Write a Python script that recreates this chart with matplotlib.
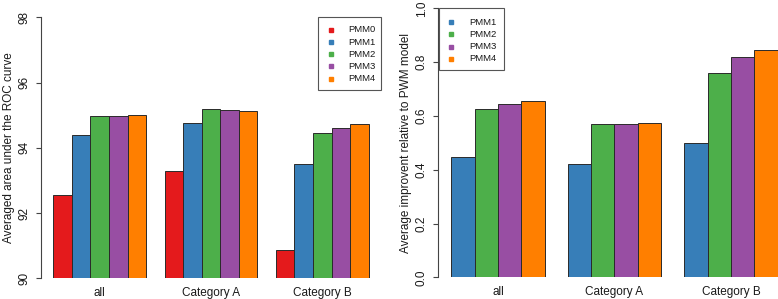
import matplotlib
matplotlib.use("Agg")
import matplotlib.pyplot as plt
from matplotlib.patches import Rectangle
import numpy as np

plt.rcParams['font.family'] = ['Liberation Sans', 'DejaVu Sans']

categories = ["all", "Category A", "Category B"]

left_series = ["PMM0", "PMM1", "PMM2", "PMM3", "PMM4"]
left_values = {
    "PMM0": [92.56, 93.29, 90.88],
    "PMM1": [94.39, 94.76, 93.51],
    "PMM2": [94.96, 95.19, 94.44],
    "PMM3": [94.99, 95.17, 94.62],
    "PMM4": [95.01, 95.12, 94.73],
}
left_yticks = [90, 92, 94, 96, 98]

right_series = ["PMM1", "PMM2", "PMM3", "PMM4"]
right_values = {
    "PMM1": [0.449, 0.423, 0.500],
    "PMM2": [0.625, 0.570, 0.759],
    "PMM3": [0.646, 0.570, 0.818],
    "PMM4": [0.656, 0.575, 0.844],
}
right_yticks = [0.0, 0.2, 0.4, 0.6, 0.8, 1.0]

colors = {"PMM0": "#E41A1C", "PMM1": "#377EB8", "PMM2": "#4DAF4A",
          "PMM3": "#984EA3", "PMM4": "#FF7F00"}

W, H = 778, 299
fig = plt.figure(figsize=(W / 100, H / 100), dpi=100)
TXT = "#1a1a1a"


def fx(x):
    return x / W


def fy(y):
    return 1 - y / H


def make_axes(l, r, t, b):
    return fig.add_axes([fx(l), fy(b), (r - l) / W, (b - t) / H])


def barpanel(ax, series, values, ylim, yticks, ylabel, fmt):
    n = len(series)
    ng = len(categories)
    centers = []
    for g in range(ng):
        start = 1 + g * (n + 1)
        for i, s in enumerate(series):
            x0 = start + i
            ax.bar(x0 + 0.5, values[s][g] - ylim[0], width=1.0, bottom=ylim[0],
                   color=colors[s], edgecolor="#2a2a2a", linewidth=0.7)
        centers.append(start + n / 2)
    total = ng * (n + 1)
    ext = 0.04 * (total - 1)
    ax.set_xlim(1 - ext, total + ext)
    ax.set_ylim(*ylim)
    for sp in ["top", "right", "bottom"]:
        ax.spines[sp].set_visible(False)
    ax.spines["left"].set_color("#444444")
    ax.spines["left"].set_linewidth(0.8)
    ax.set_yticks(yticks)
    ax.set_yticklabels([fmt(v) for v in yticks], rotation=90, va="center",
                       fontsize=8.5, color=TXT)
    ax.tick_params(axis="y", length=3.4, width=0.8, color="#444444", pad=4.3)
    ax.set_xticks(centers)
    ax.set_xticklabels(categories, fontsize=8.5, color=TXT)
    ax.tick_params(axis="x", length=0, pad=6.5)
    ax.set_ylabel(ylabel, fontsize=8.5, color=TXT, labelpad=2.5)


def legend(series, box, mx, tx, rows):
    l, t, r, b = box
    fig.patches.append(Rectangle((fx(l), fy(b)), (r - l) / W, (b - t) / H,
                                 transform=fig.transFigure, facecolor="white",
                                 edgecolor="#555555", linewidth=0.8, zorder=5))
    for s, y in zip(series, rows):
        fig.lines.append(plt.Line2D([fx(mx)], [fy(y)], marker="s", markersize=3.2,
                                    color=colors[s], linestyle="none",
                                    transform=fig.transFigure, zorder=6))
        fig.text(fx(tx), fy(y), s, fontsize=6.8, color=TXT, va="center", ha="left", zorder=6)


ax1 = make_axes(40.7, 381.3, 17.3, 278.3)
barpanel(ax1, left_series, left_values, (90, 98), left_yticks,
         "Averaged area under the ROC curve", lambda v: f"{v:d}")
legend(left_series, (318.3, 17.3, 381, 90), 331, 348.5, [30, 42.2, 54.3, 66.4, 78.6])

ax2 = make_axes(438.3, 790.6, 8.3, 277.3)
barpanel(ax2, right_series, right_values, (0, 1), right_yticks,
         "Average improvent relative to PWM model", lambda v: f"{v:.1f}")
legend(right_series, (439, 8.3, 504, 70.3), 451, 469.5, [22.3, 34.4, 46.5, 58.6])

fig.savefig("out.png", dpi=100)
